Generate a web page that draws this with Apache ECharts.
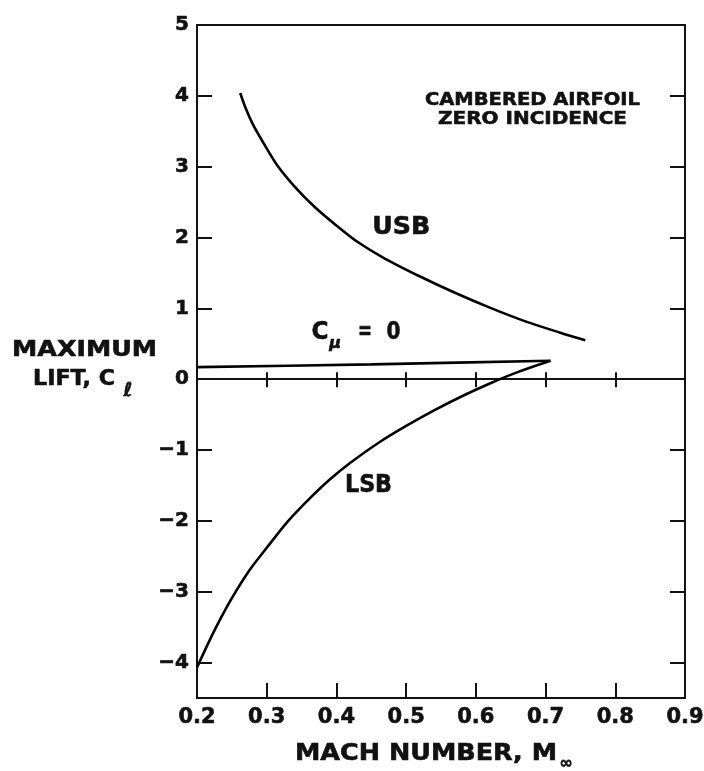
<!DOCTYPE html>
<html>
<head>
<meta charset="utf-8">
<script src="https://cdn.jsdelivr.net/npm/echarts@6/dist/echarts.min.js"></script>
<style>
  html, body { margin: 0; padding: 0; background: #fff; }
  #chart { width: 704px; height: 771px; }
</style>
</head>
<body>
<div id="chart"></div>
<script>
// ---- data -------------------------------------------------------------
// Mach number tick values (bottom axis) and interior tick marks
const machTicks = [0.2, 0.3, 0.4, 0.5, 0.6, 0.7, 0.8, 0.9];
const innerMachTicks = [0.3, 0.4, 0.5, 0.6, 0.7, 0.8];
// Maximum lift coefficient tick values
const liftTicks = [-4, -3, -2, -1, 0, 1, 2, 3, 4, 5];

// Upper-surface blowing, [Mach, max Cl]
const usbCurve = [
  [0.262, 4.04], [0.270, 3.82], [0.280, 3.60], [0.295, 3.34], [0.315, 3.02],
  [0.340, 2.72], [0.370, 2.42], [0.400, 2.17], [0.430, 1.94], [0.470, 1.70],
  [0.520, 1.45], [0.570, 1.22], [0.620, 1.01], [0.670, 0.82], [0.720, 0.66],
  [0.757, 0.55]
];
// Lower-surface blowing, [Mach, max Cl]
const lsbCurve = [
  [0.200, -4.07], [0.215, -3.75], [0.230, -3.45], [0.250, -3.09], [0.275, -2.70],
  [0.300, -2.38], [0.330, -2.01], [0.360, -1.70], [0.390, -1.42], [0.420, -1.18],
  [0.460, -0.90], [0.500, -0.66], [0.540, -0.44], [0.580, -0.24], [0.620, -0.06],
  [0.660, 0.10], [0.707, 0.26]
];
// No blowing (C_mu = 0), [Mach, max Cl]
const noBlowingCurve = [[0.200, 0.17], [0.450, 0.21], [0.707, 0.26]];

// ---- styling ----------------------------------------------------------
const FONT = '"DejaVu Sans", "Liberation Sans", sans-serif';
const INK = '#111';
const plotRect = { left: 197, top: 25, right: 19, bottom: 73 };
const frameLine = { color: INK, width: 2 };

function gridBox() {
  return Object.assign({ containLabel: false, outerBoundsMode: 'none', show: false }, plotRect);
}
function machAxis(extra) {
  return Object.assign({
    type: 'value', min: 0.2, max: 0.9,
    splitLine: { show: false },
    axisLabel: { show: false }
  }, extra);
}
function liftAxis(extra) {
  return Object.assign({
    type: 'value', min: -4.5, max: 5,
    splitLine: { show: false },
    axisLabel: { show: false }
  }, extra);
}
const tickFont = {
  fontFamily: FONT, fontWeight: 'bold', color: INK,
  textBorderColor: INK, textBorderWidth: 0.6
};

const chart = echarts.init(document.getElementById('chart'), null, { renderer: 'canvas' });

chart.setOption({
  animation: false,
  backgroundColor: '#fff',
  grid: [gridBox(), gridBox(), gridBox()],
  xAxis: [
    machAxis({
      gridIndex: 0, position: 'bottom',
      axisLine: { onZero: false, lineStyle: frameLine },
      axisTick: { inside: true, length: 15, lineStyle: frameLine, customValues: innerMachTicks },
      axisLabel: Object.assign({
        show: true, customValues: machTicks, margin: 9, fontSize: 21,
        formatter: v => v.toFixed(1)
      }, tickFont)
    }),
    machAxis({
      gridIndex: 0, position: 'top',
      axisLine: { onZero: false, lineStyle: frameLine },
      axisTick: { show: false }
    }),
    // zero line with the upper half of its cross ticks
    machAxis({
      gridIndex: 1, position: 'bottom',
      axisLine: { onZero: true, lineStyle: frameLine },
      axisTick: { inside: true, length: 7, lineStyle: frameLine, customValues: innerMachTicks }
    }),
    // lower half of the zero-line cross ticks
    machAxis({
      gridIndex: 2, position: 'bottom',
      axisLine: { onZero: true, show: false },
      axisTick: { inside: false, length: 8, lineStyle: frameLine, customValues: innerMachTicks }
    })
  ],
  yAxis: [
    liftAxis({
      gridIndex: 0, position: 'left',
      axisLine: { onZero: false, lineStyle: frameLine },
      axisTick: { inside: true, length: 15, lineStyle: frameLine, customValues: liftTicks },
      axisLabel: Object.assign({
        show: true, customValues: liftTicks, margin: 8, fontSize: 20,
        formatter: v => (v < 0 ? '\u2212' + Math.abs(v) : String(v))
      }, tickFont)
    }),
    liftAxis({
      gridIndex: 0, position: 'right',
      axisLine: { onZero: false, lineStyle: frameLine },
      axisTick: { inside: true, length: 15, lineStyle: frameLine, customValues: liftTicks }
    }),
    liftAxis({ gridIndex: 1, show: false }),
    liftAxis({ gridIndex: 2, show: false })
  ],
  series: [
    {
      name: 'USB', type: 'line', xAxisIndex: 0, yAxisIndex: 0,
      data: usbCurve, smooth: 0.3, showSymbol: false, z: 5,
      lineStyle: { color: '#000', width: 2.6 }
    },
    {
      name: 'LSB', type: 'line', xAxisIndex: 0, yAxisIndex: 0,
      data: lsbCurve, smooth: 0.3, showSymbol: false, z: 5,
      lineStyle: { color: '#000', width: 2.6 }
    },
    {
      name: 'C_mu = 0', type: 'line', xAxisIndex: 0, yAxisIndex: 0,
      data: noBlowingCurve, smooth: 0.2, showSymbol: false, z: 5,
      lineStyle: { color: '#000', width: 2.6 }
    }
  ]
});

// ---- text annotations ---------------------------------------------------
const measureCtx = document.createElement('canvas').getContext('2d');
function fontSpec(fs, italic) {
  return (italic ? 'italic ' : '') + 'bold ' + fs + 'px ' + FONT;
}
// centred caption, stretched horizontally to the given width
function caption(text, cx, cy, fs, width, italic) {
  const font = fontSpec(fs, italic);
  measureCtx.font = font;
  const natural = measureCtx.measureText(text).width;
  return {
    type: 'text', x: cx, y: cy, z: 20,
    scaleX: width ? width / natural : 1,
    style: {
      text: text, font: font, fill: INK,
      stroke: INK, lineWidth: 0.6,
      align: 'center', verticalAlign: 'middle',
      textAlign: 'center', textVerticalAlign: 'middle'
    }
  };
}
function atData(pt) {
  return chart.convertToPixel({ gridIndex: 0 }, pt);
}

const usbPos = atData([0.493, 2.14]);
const lsbPos = atData([0.446, -1.50]);
const cmuPos = atData([0.3765, 0.66]);

chart.setOption({
  graphic: [
    // y-axis title
    caption('MAXIMUM', 84.5, 350.5, 21, 145),
    caption('LIFT, C', 74, 379.5, 21, 82),
    caption('\u2113', 128, 391, 19, 0, true),
    // x-axis title
    caption('MACH NUMBER, M', 426, 754, 23, 262),
    caption('\u221E', 566, 764, 16, 0),
    // case note
    caption('CAMBERED AIRFOIL', 532.5, 100, 18, 215),
    caption('ZERO INCIDENCE', 532.5, 119, 18, 189),
    // curve labels
    caption('USB', usbPos[0], usbPos[1], 24, 58),
    caption('LSB', lsbPos[0], lsbPos[1], 24, 47),
    caption('C', cmuPos[0], cmuPos[1], 24, 17),
    caption('\u03BC', cmuPos[0] + 15, cmuPos[1] + 11, 16, 0, true),
    caption('=', cmuPos[0] + 45, cmuPos[1], 24, 14),
    caption('0', cmuPos[0] + 73.5, cmuPos[1], 24, 14)
  ]
});
</script>
</body>
</html>
